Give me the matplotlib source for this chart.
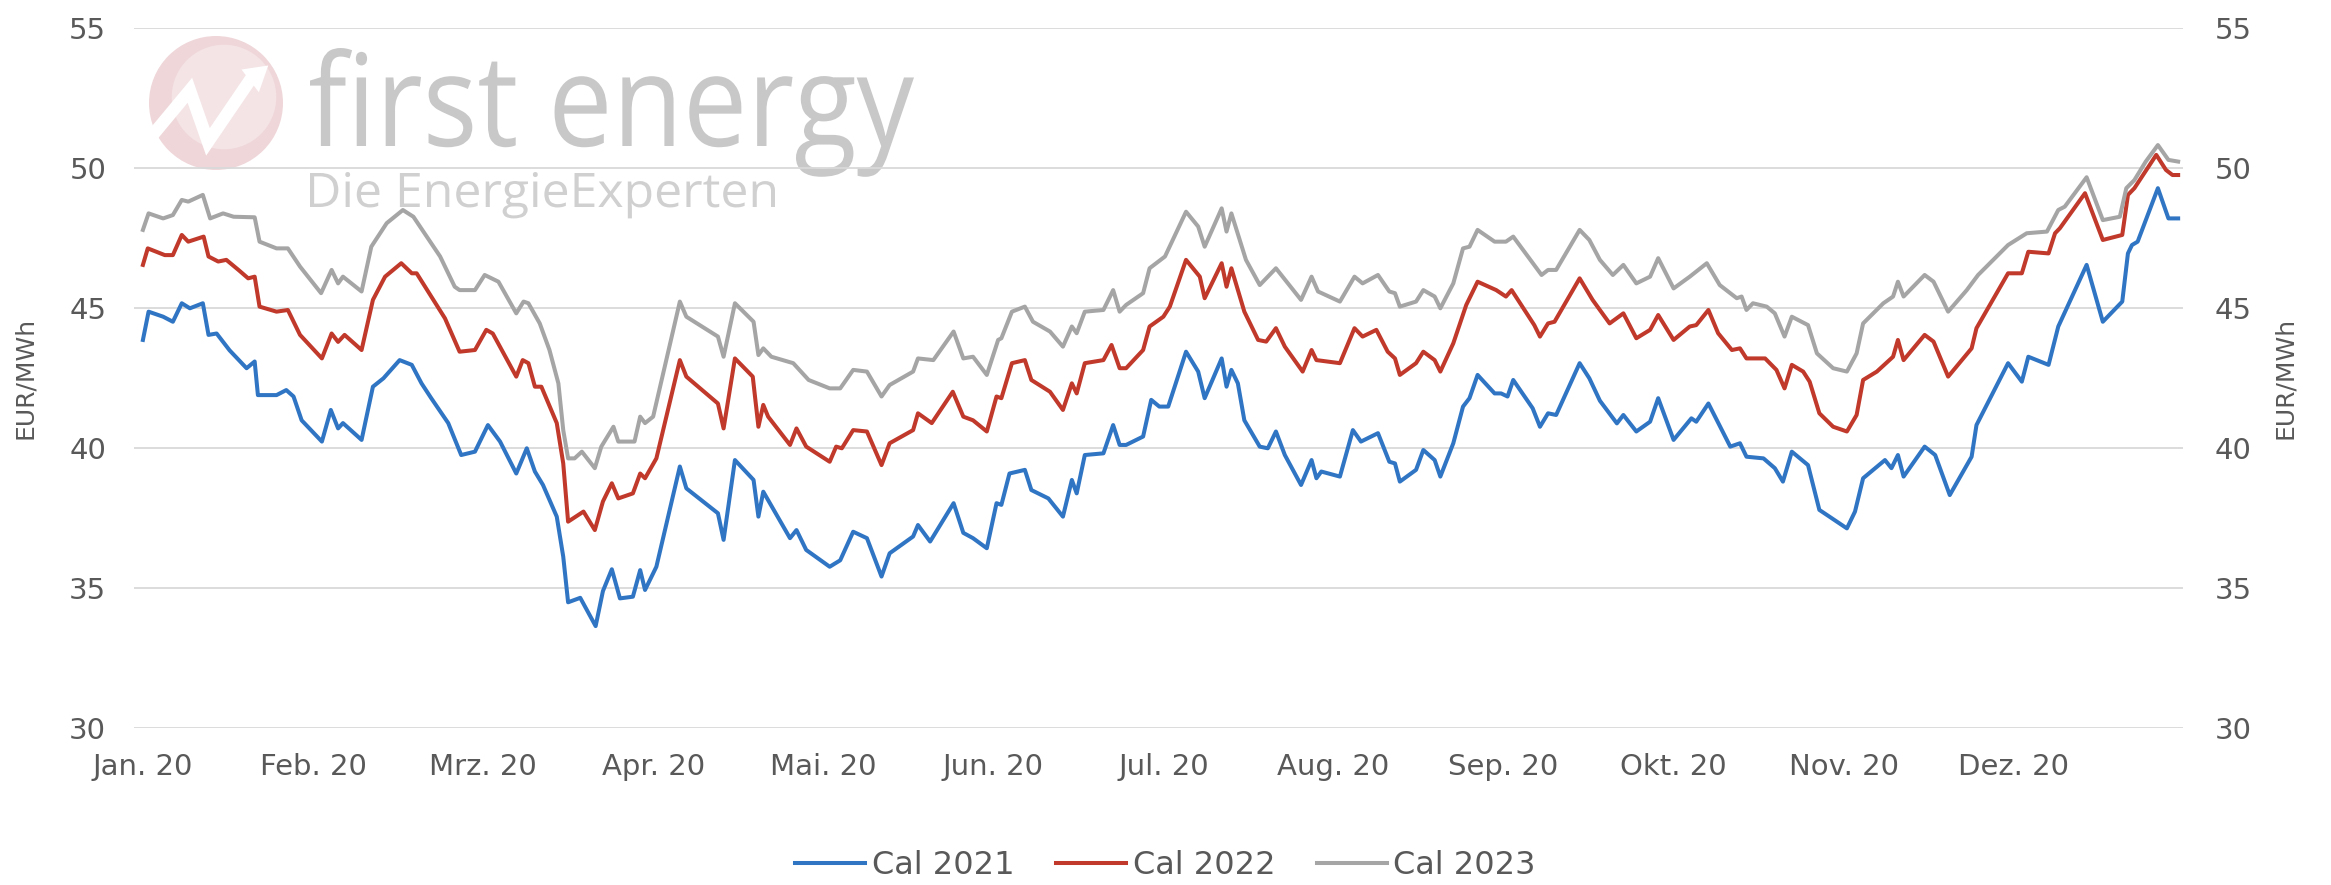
import matplotlib
matplotlib.use('Agg')
import matplotlib.pyplot as plt
from matplotlib.patches import Circle, PathPatch, Polygon
from matplotlib.lines import Line2D
from matplotlib.textpath import TextPath
from matplotlib.font_manager import FontProperties
from matplotlib.transforms import Affine2D, IdentityTransform

d21 = [0.0, 0.7, 2.5, 3.7, 4.8, 5.8, 7.4, 8.1, 9.1, 10.7, 12.8, 13.8, 14.2, 16.5, 17.7, 18.6, 19.6, 22.1,
       23.2, 24.1, 24.7, 27.0, 28.4, 29.7, 31.7, 33.2, 34.4, 35.6, 37.7, 39.3, 41.0, 42.6, 44.1, 46.1, 47.4,
       48.4, 49.4, 51.1, 51.9, 52.5, 54.0, 55.9, 56.8, 57.9, 58.9, 60.5, 61.4, 62.0, 63.4, 66.3, 67.1, 71.0,
       71.7, 73.1, 75.4, 76.0, 76.6, 79.9, 80.7, 81.9, 84.8, 86.1, 87.7, 89.4, 91.2, 92.2, 95.1, 95.7, 97.2,
       100.1, 101.3, 102.5, 104.2, 105.4, 106.0, 107.0, 108.9, 109.7, 111.8, 113.6, 114.7, 115.3, 116.3,
       118.6, 119.8, 120.6, 121.4, 123.5, 124.5, 125.5, 126.6, 128.8, 130.3, 131.1, 133.2, 133.8, 134.4,
       135.2, 136.0, 137.9, 138.9, 139.9, 141.0, 143.0, 144.3, 144.9, 145.5, 147.8, 149.4, 150.4, 152.5,
       153.9, 154.6, 155.2, 157.2, 158.1, 159.5, 160.2, 161.8, 163.0, 163.8, 164.8, 166.9, 167.7, 168.5,
       169.2, 171.6, 172.5, 173.5, 174.5, 177.4, 178.6, 179.9, 182.0, 182.8, 184.4, 186.1, 187.1, 189.0,
       191.2, 191.8, 193.3, 196.0, 197.2, 198.0, 200.1, 201.5, 202.5, 203.6, 205.6, 207.0, 210.4, 211.4,
       212.4, 215.1, 215.9, 216.7, 217.4, 220.0, 221.3, 223.1, 225.8, 226.4, 230.3, 232.0, 232.8, 235.3,
       236.5, 240.0, 242.0, 244.4, 245.1, 245.6, 246.3, 248.8, 250.1, 251.3]
cal21 = [43.87, 44.88, 44.70, 44.52, 45.18, 45.00, 45.18, 44.05, 44.10, 43.50, 42.86, 43.10, 41.90, 41.90,
         42.08, 41.85, 41.00, 40.24, 41.37, 40.71, 40.90, 40.30, 42.20, 42.50, 43.15, 42.98, 42.32, 41.79,
         40.90, 39.76, 39.88, 40.83, 40.24, 39.10, 40.00, 39.17, 38.69, 37.56, 36.13, 34.50, 34.66, 33.65,
         34.90, 35.68, 34.64, 34.70, 35.65, 34.94, 35.77, 39.35, 38.57, 37.68, 36.73, 39.58, 38.87, 37.56,
         38.45, 36.79, 37.08, 36.37, 35.77, 36.00, 37.02, 36.79, 35.42, 36.25, 36.85, 37.26, 36.67, 38.04,
         36.98, 36.79, 36.43, 38.04, 37.98, 39.10, 39.23, 38.51, 38.21, 37.56, 38.87, 38.39, 39.76, 39.82,
         40.83, 40.12, 40.12, 40.42, 41.73, 41.49, 41.49, 43.45, 42.74, 41.79, 43.21, 42.20, 42.80, 42.32,
         41.00, 40.06, 40.00, 40.60, 39.76, 38.69, 39.58, 38.93, 39.17, 38.99, 40.65, 40.24, 40.54, 39.52,
         39.46, 38.81, 39.23, 39.94, 39.58, 38.99, 40.18, 41.49, 41.79, 42.62, 41.96, 41.96, 41.85, 42.44,
         41.43, 40.77, 41.25, 41.19, 43.04, 42.50, 41.70, 40.89, 41.19, 40.60, 40.95, 41.79, 40.30, 41.07,
         40.95, 41.60, 40.06, 40.18, 39.70, 39.64, 39.29, 38.81, 39.88, 39.40, 37.80, 37.14, 37.74, 38.93,
         39.58, 39.29, 39.76, 38.99, 40.06, 39.76, 38.33, 39.70, 40.83, 43.04, 42.38, 43.27, 42.98, 44.35,
         46.55, 44.52, 45.24, 46.96, 47.26, 47.38, 49.29, 48.21, 48.21]

d22 = [0.0, 0.6, 2.7, 3.7, 4.8, 5.6, 7.5, 8.1, 9.3, 10.3, 11.8, 13.0, 13.8, 14.4, 16.5, 17.9, 19.4, 22.1,
       23.3, 24.1, 24.9, 27.0, 28.4, 29.9, 31.9, 33.2, 33.8, 35.6, 37.3, 39.1, 41.0, 42.4, 43.2, 46.1, 46.9,
       47.6, 48.4, 49.2, 51.1, 51.9, 52.5, 54.4, 55.8, 56.8, 57.9, 58.7, 60.5, 61.4, 62.0, 63.4, 66.3, 67.1,
       71.0, 71.7, 73.1, 75.3, 76.0, 76.6, 77.2, 79.9, 80.7, 81.9, 84.8, 85.6, 86.3, 87.7, 89.4, 91.2, 92.2,
       95.1, 95.7, 97.4, 100.0, 101.3, 102.5, 104.2, 105.4, 106.0, 107.3, 108.9, 109.7, 112.0, 113.6,
       114.7, 115.3, 116.3, 118.6, 119.6, 120.6, 121.4, 123.5, 124.3, 126.0, 126.8, 128.8, 130.5, 131.1,
       133.2, 133.8, 134.4, 136.0, 137.7, 138.7, 139.9, 141.0, 143.2, 144.3, 144.9, 147.8, 149.6, 150.6,
       152.3, 153.7, 154.6, 155.2, 157.2, 158.1, 159.5, 160.2, 161.8, 163.4, 164.8, 167.1, 168.3, 169.0,
       171.8, 172.5, 173.5, 174.3, 177.4, 179.0, 180.0, 181.1, 182.8, 184.4, 186.1, 187.1, 189.0, 191.0,
       191.8, 193.3, 194.5, 196.2, 197.2, 198.0, 200.3, 201.7, 202.7, 203.6, 205.0, 205.8, 207.0, 208.7,
       210.4, 211.6, 212.4, 214.1, 216.1, 216.7, 217.4, 220.0, 221.1, 222.9, 225.8, 226.4, 230.3, 232.0,
       232.8, 235.3, 236.1, 236.7, 239.8, 242.0, 244.4, 245.1, 245.9, 248.6, 249.8, 250.6, 251.3]
cal22 = [46.55, 47.14, 46.90, 46.90, 47.62, 47.38, 47.56, 46.85, 46.67, 46.73, 46.37, 46.07, 46.13, 45.06,
         44.88, 44.94, 44.05, 43.21, 44.10, 43.80, 44.05, 43.51, 45.30, 46.13, 46.61, 46.25, 46.25, 45.42,
         44.64, 43.45, 43.51, 44.23, 44.10, 42.56, 43.15, 43.04, 42.20, 42.20, 40.90, 39.46, 37.38, 37.74,
         37.08, 38.10, 38.75, 38.21, 38.39, 39.10, 38.93, 39.64, 43.15, 42.56, 41.60, 40.71, 43.21, 42.56,
         40.77, 41.55, 41.13, 40.12, 40.71, 40.06, 39.52, 40.06, 40.00, 40.65, 40.60, 39.40, 40.18, 40.65,
         41.25, 40.90, 42.02, 41.13, 41.00, 40.60, 41.85, 41.79, 43.04, 43.15, 42.44, 42.02, 41.37, 42.32,
         41.96, 43.04, 43.15, 43.69, 42.86, 42.86, 43.51, 44.35, 44.70, 45.06, 46.73, 46.13, 45.36, 46.61,
         45.77, 46.43, 44.88, 43.87, 43.81, 44.29, 43.63, 42.74, 43.51, 43.15, 43.04, 44.29, 43.99, 44.23,
         43.45, 43.21, 42.62, 43.04, 43.45, 43.15, 42.74, 43.75, 45.12, 45.95, 45.65, 45.42, 45.65, 44.40,
         43.99, 44.46, 44.52, 46.07, 45.30, 44.90, 44.46, 44.82, 43.93, 44.23, 44.76, 43.87, 44.35, 44.40,
         44.94, 44.11, 43.51, 43.57, 43.21, 43.21, 42.80, 42.14, 42.98, 42.74, 42.38, 41.25, 40.77, 40.60,
         41.19, 42.44, 42.74, 43.27, 43.87, 43.15, 44.05, 43.81, 42.56, 43.57, 44.29, 46.25, 46.25, 47.02,
         46.96, 47.68, 47.86, 49.11, 47.44, 47.62, 49.05, 49.29, 50.48, 49.94, 49.76, 49.76]

d23 = [0.0, 0.7, 2.5, 3.7, 4.8, 5.6, 7.4, 8.3, 9.9, 11.2, 13.8, 14.4, 16.5, 17.9, 19.4, 22.0, 23.3, 24.1,
       24.7, 27.0, 28.2, 30.1, 32.1, 33.4, 36.7, 38.5, 39.1, 41.0, 42.2, 43.9, 46.1, 47.0, 47.6, 49.0, 50.2,
       51.3, 51.9, 52.5, 53.3, 54.2, 55.8, 56.6, 58.1, 58.7, 60.7, 61.4, 62.0, 63.0, 66.3, 67.1, 71.0, 71.7,
       73.1, 75.4, 76.0, 76.6, 77.6, 80.3, 82.2, 84.8, 86.1, 87.7, 89.4, 91.2, 92.2, 95.1, 95.7, 97.6,
       100.1, 101.3, 102.5, 104.2, 105.6, 106.0, 107.3, 108.9, 109.9, 112.0, 113.6, 114.7, 115.3, 116.3,
       118.6, 119.8, 120.6, 121.4, 123.5, 124.3, 126.2, 128.8, 130.3, 131.1, 133.2, 133.8, 134.4, 136.2,
       137.9, 139.9, 143.0, 144.3, 145.1, 147.8, 149.6, 150.6, 152.5, 153.9, 154.6, 155.2, 157.2, 158.1,
       159.5, 160.2, 161.8, 163.0, 163.8, 164.8, 166.9, 168.3, 169.2, 172.7, 173.5, 174.5, 177.4, 178.6,
       179.9, 181.5, 182.8, 184.4, 186.1, 187.1, 189.0, 191.0, 193.1, 194.7, 196.8, 197.4, 198.0, 198.8,
       200.5, 201.5, 202.7, 203.6, 205.6, 206.7, 208.7, 210.4, 211.6, 212.4, 214.9, 216.1, 216.7, 217.4,
       220.0, 221.1, 222.9, 225.2, 226.6, 230.3, 232.6, 235.1, 236.5, 237.3, 240.0, 242.0, 244.1, 244.9,
       245.9, 247.3, 248.8, 250.1, 251.3]
cal23 = [47.80, 48.39, 48.21, 48.33, 48.87, 48.81, 49.05, 48.21, 48.39, 48.27, 48.25, 47.38, 47.14, 47.14,
         46.49, 45.54, 46.37, 45.89, 46.13, 45.60, 47.20, 48.04, 48.51, 48.27, 46.85, 45.77, 45.65, 45.65,
         46.19, 45.95, 44.82, 45.24, 45.18, 44.46, 43.51, 42.32, 40.65, 39.64, 39.64, 39.88, 39.29, 40.06,
         40.77, 40.24, 40.24, 41.13, 40.90, 41.13, 45.24, 44.70, 43.99, 43.27, 45.18, 44.52, 43.33, 43.57,
         43.27, 43.04, 42.44, 42.14, 42.14, 42.80, 42.74, 41.85, 42.26, 42.74, 43.21, 43.15, 44.17, 43.21,
         43.27, 42.62, 43.87, 43.93, 44.88, 45.06, 44.52, 44.17, 43.63, 44.35, 44.11, 44.88, 44.94, 45.65,
         44.88, 45.12, 45.54, 46.43, 46.85, 48.45, 47.92, 47.20, 48.57, 47.74, 48.39, 46.73, 45.83, 46.43,
         45.30, 46.13, 45.60, 45.24, 46.13, 45.89, 46.19, 45.60, 45.54, 45.06, 45.24, 45.65, 45.42, 45.00,
         45.89, 47.14, 47.20, 47.80, 47.38, 47.38, 47.56, 46.19, 46.37, 46.37, 47.80, 47.44, 46.73, 46.19,
         46.55, 45.89, 46.13, 46.79, 45.71, 46.13, 46.61, 45.83, 45.36, 45.42, 44.94, 45.18, 45.06, 44.82,
         43.99, 44.70, 44.40, 43.39, 42.86, 42.74, 43.39, 44.46, 45.18, 45.42, 45.95, 45.42, 46.19, 45.95,
         44.88, 45.65, 46.19, 47.26, 47.68, 47.74, 48.51, 48.63, 49.68, 48.15, 48.27, 49.29, 49.58, 50.24,
         50.83, 50.30, 50.24]

months = ['Jan. 20', 'Feb. 20', 'Mrz. 20', 'Apr. 20', 'Mai. 20', 'Jun. 20',
          'Jul. 20', 'Aug. 20', 'Sep. 20', 'Okt. 20', 'Nov. 20', 'Dez. 20']
days_per_label = 21

W, H = 2331, 885
txt = '#595959'

fig = plt.figure(figsize=(W / 100, H / 100), dpi=100)

# Wasserzeichen / Logo (in Pixelkoordinaten)
px = IdentityTransform()
cx, cy, r = 216, H - 103, 67
fig.add_artist(Circle((cx, cy), r, transform=px, fc='#efd6d9', ec='none', zorder=-3))
fig.add_artist(Circle((cx + 8, cy + 6), r * 0.78, transform=px, fc='#f4e4e6', ec='none', zorder=-2))
zz = [(-0.88, -0.40), (-0.39, 0.19), (-0.12, -0.58), (0.52, 0.36)]
fig.add_artist(Line2D([cx + r * a for a, b in zz], [cy + r * b for a, b in zz], transform=px,
                      color='white', lw=9, solid_joinstyle='miter', zorder=-1))
tip = [(0.78, 0.56), (0.38, 0.50), (0.64, 0.16)]
fig.add_artist(Polygon([(cx + r * a, cy + r * b) for a, b in tip], closed=True, transform=px,
                       fc='white', ec='none', zorder=-1))


def logo_text(s, x0, x1, top, base, color):
    tp = TextPath((0, 0), s, size=100, prop=FontProperties(family='Open Sans'))
    ext = tp.get_extents()
    sx = (x1 - x0) / ext.width
    sy = (base - top) / ext.y1
    tr = Affine2D().translate(-ext.x0, 0).scale(sx, sy).translate(x0, H - base)
    fig.add_artist(PathPatch(tp, transform=tr, fc=color, ec='none', zorder=-1))


logo_text('first energy', 310, 914, 48, 146, '#c8c8c8')
logo_text('Die EnergieExperten', 310, 775, 172, 207, '#d0d0d0')

ax = fig.add_axes([134 / W, 1 - 728.3 / H, (2183 - 134) / W, 700 / H])
ax.patch.set_visible(False)

ax.plot(d21, cal21, color='#2f75c4', lw=2.9, label='Cal 2021')
ax.plot(d22, cal22, color='#c0392b', lw=2.9, label='Cal 2022')
ax.plot(d23, cal23, color='#a5a5a5', lw=2.9, label='Cal 2023')

ax.set_xlim(-1.1, 251.9)
ax.set_ylim(30, 55)
ax.set_yticks(range(30, 56, 5))
ax.set_xticks([i * days_per_label for i in range(len(months))])
ax.set_xticklabels(months)
ax.grid(axis='y', color='#d9d9d9', lw=1.3)
ax.set_axisbelow(True)
for s in ax.spines.values():
    s.set_visible(False)
ax.tick_params(axis='both', length=0, labelsize=21, labelcolor=txt)
ax.tick_params(axis='x', pad=18)
ax.tick_params(axis='y', pad=20)
ax.set_ylabel('EUR/MWh', fontsize=18, color=txt)
ax.yaxis.set_label_coords((37 - 134) / 2049, 0.5)

ax2 = ax.twinx()
ax2.set_ylim(30, 55)
ax2.set_yticks(range(30, 56, 5))
for s in ax2.spines.values():
    s.set_visible(False)
ax2.tick_params(axis='y', length=0, labelsize=21, labelcolor=txt, pad=23)
ax2.set_ylabel('EUR/MWh', fontsize=18, color=txt)
ax2.yaxis.set_label_coords((2273 - 134) / 2049, 0.5)

leg = fig.legend(*ax.get_legend_handles_labels(), loc='center', bbox_to_anchor=(0.5, 1 - 866 / H),
                 ncol=3, frameon=False, fontsize=23, handlelength=2.2, handletextpad=0.2,
                 columnspacing=1.3)
for t in leg.get_texts():
    t.set_color(txt)

fig.savefig('out.png', dpi=100)
